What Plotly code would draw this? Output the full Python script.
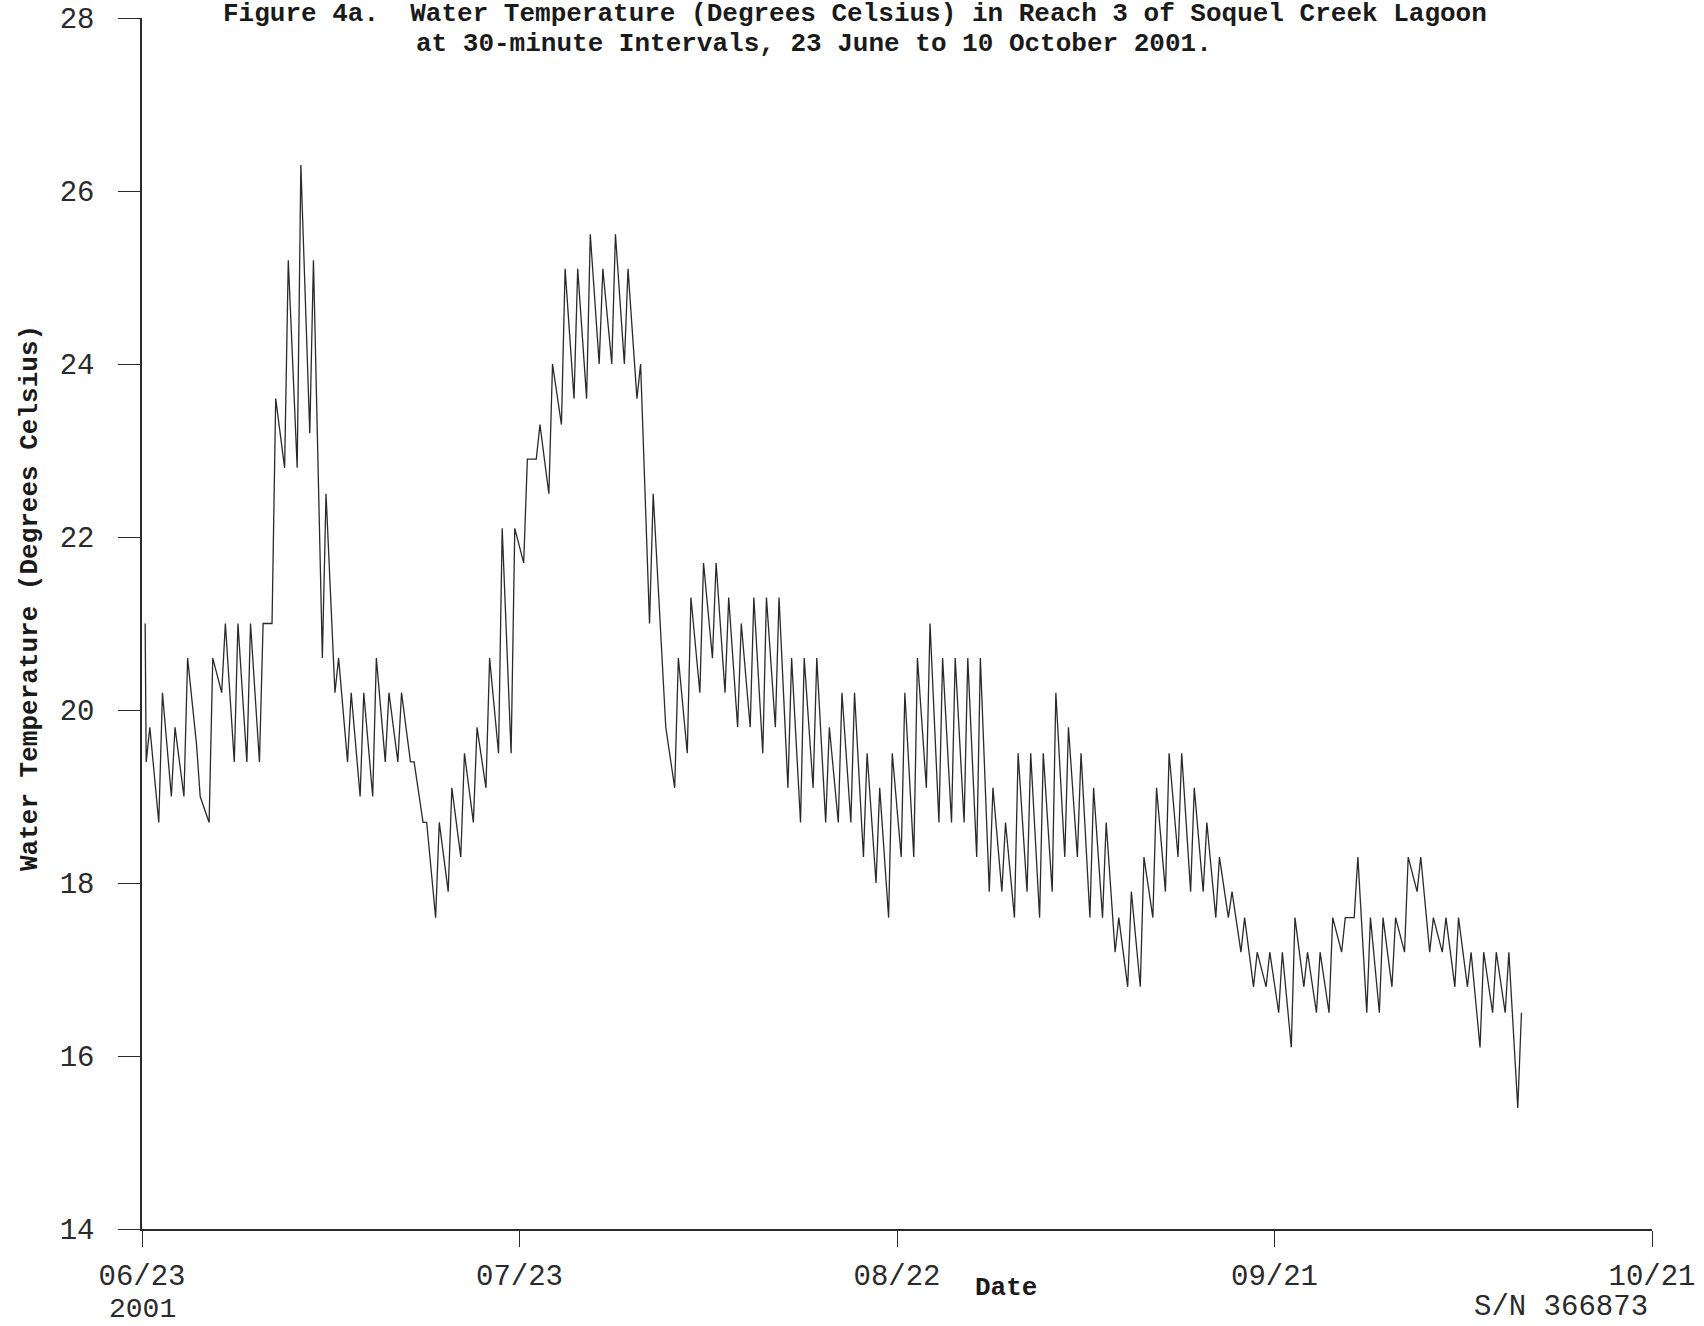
import pandas as pd
import plotly.graph_objects as go

# Logger record, Reach 3, Soquel Creek Lagoon (deg C)
start_date = "2001-06-23"
first_reading = 21.0          # first logged value, morning of 23 June
morning_temp = [
    19.4, 18.7, 19.0, 19.0, 19.6, 18.7, 20.2, 19.4, 19.4, 19.4,
    21.0, 22.8, 22.8, 23.2, 20.6, 20.2, 19.4, 19.0, 19.0, 19.4,
    19.4, 19.4, 18.7, 17.6, 17.9, 18.3, 18.7, 19.1, 19.5, 19.5,
    21.7, 22.9, 22.5, 23.3, 23.6, 23.6, 24.0, 24.0, 24.0, 23.6,
    21.0, 20.6, 19.1, 19.5, 20.2, 20.6, 20.2, 19.8, 19.8, 19.5,
    19.8, 19.1, 18.7, 19.1, 18.7, 18.7, 18.7, 18.3, 18.0, 17.6,
    18.3, 18.3, 19.1, 18.7, 18.7, 18.7, 18.3, 17.9, 17.9, 17.6,
    17.9, 17.6, 17.9, 18.3, 18.3, 17.6, 17.6, 17.2, 16.8, 16.8,
    17.6, 17.9, 18.3, 17.9, 17.9, 17.6, 17.6, 17.2, 16.8, 16.8,
    16.5, 16.1, 16.8, 16.5, 16.5, 17.2, 17.6, 16.5, 16.5, 16.8,
    17.2, 17.9, 17.2, 17.2, 16.8, 16.8, 16.1, 16.5, 16.5, 15.4,
]
afternoon_temp = [
    19.8, 20.2, 19.8, 20.6, 19.0, 20.6, 21.0, 21.0, 21.0, 21.0,
    23.6, 25.2, 26.3, 25.2, 22.5, 20.6, 20.2, 20.2, 20.6, 20.2,
    20.2, 19.4, 18.7, 18.7, 19.1, 19.5, 19.8, 20.6, 22.1, 22.1,
    22.9, 23.3, 24.0, 25.1, 25.1, 25.5, 25.1, 25.5, 25.1, 24.0,
    22.5, 19.8, 20.6, 21.3, 21.7, 21.7, 21.3, 21.0, 21.3, 21.3,
    21.3, 20.6, 20.6, 20.6, 19.8, 20.2, 20.2, 19.5, 19.1, 19.5,
    20.2, 20.6, 21.0, 20.6, 20.6, 20.6, 20.6, 19.1, 18.7, 19.5,
    19.5, 19.5, 20.2, 19.8, 19.5, 19.1, 18.7, 17.6, 17.9, 18.3,
    19.1, 19.5, 19.5, 19.1, 18.7, 18.3, 17.9, 17.6, 17.2, 17.2,
    17.2, 17.6, 17.2, 17.2, 17.6, 17.6, 18.3, 17.6, 17.6, 17.6,
    18.3, 18.3, 17.6, 17.6, 17.6, 17.2, 17.2, 17.2, 17.2, 16.5,
]

tick_dates = ["2001-06-23", "2001-07-23", "2001-08-22", "2001-09-21", "2001-10-21"]
tick_text = ["06/23", "07/23", "08/22", "09/21", "10/21"]
year_label = "2001"
y_ticks = [14, 16, 18, 20, 22, 24, 26, 28]

# Interleave the morning low and afternoon high of each day
base = pd.Timestamp(start_date)
times = [base + pd.Timedelta(hours=6)]
temps = [first_reading]
for day, (lo, hi) in enumerate(zip(morning_temp, afternoon_temp)):
    times.append(base + pd.Timedelta(days=day, hours=8))
    temps.append(lo)
    times.append(base + pd.Timedelta(days=day, hours=15))
    temps.append(hi)

mono = "Liberation Mono, Courier New, monospace"
ink = "#2a2a2a"

fig = go.Figure()
fig.add_trace(go.Scatter(
    x=times, y=temps, mode="lines",
    line=dict(color=ink, width=1.3, shape="linear"),
    hoverinfo="skip", showlegend=False,
))

fig.update_layout(
    width=1704, height=1326,
    margin=dict(l=142, r=52, t=18, b=97),
    paper_bgcolor="white", plot_bgcolor="white",
    font=dict(family=mono, color=ink),
    showlegend=False,
)

fig.update_xaxes(
    type="date",
    range=[tick_dates[0], tick_dates[-1]],
    tickmode="array", tickvals=tick_dates, ticktext=tick_text,
    ticks="outside", ticklen=16, tickwidth=1.3, tickcolor=ink,
    tickfont=dict(family=mono, size=29, color=ink),
    ticklabelstandoff=3,
    showline=True, linecolor=ink, linewidth=1.5,
    showgrid=False, zeroline=False, automargin=False,
)
fig.update_yaxes(
    range=[14, 28],
    tickmode="array", tickvals=y_ticks,
    ticks="outside", ticklen=22, tickwidth=1.3, tickcolor=ink,
    tickfont=dict(family=mono, size=29, color=ink),
    ticklabelstandoff=18,
    showline=True, linecolor=ink, linewidth=1.5,
    showgrid=False, zeroline=False, automargin=False,
)

bold = dict(family=mono, size=26, color="#1a1a1a")
plot_w, plot_h = 1510, 1211   # plot area in px: x 142..1652, y 18..1229

fig.add_annotation(
    text="<b>Figure 4a.  Water Temperature (Degrees Celsius) in Reach 3 of Soquel Creek Lagoon</b>",
    xref="paper", yref="paper", x=(221 - 142) / plot_w, y=1 + (18 - 14) / plot_h,
    xanchor="left", yanchor="middle", showarrow=False, font=bold,
)
fig.add_annotation(
    text="<b>at 30-minute Intervals, 23 June to 10 October 2001.</b>",
    xref="paper", yref="paper", x=(414 - 142) / plot_w, y=1 - (44 - 18) / plot_h,
    xanchor="left", yanchor="middle", showarrow=False, font=bold,
)
fig.add_annotation(
    text="<b>Water Temperature (Degrees Celsius)</b>",
    xref="paper", yref="paper", x=(30 - 142) / plot_w, y=1 - (598 - 18) / plot_h,
    xanchor="center", yanchor="middle", textangle=-90, showarrow=False, font=bold,
)
fig.add_annotation(
    text="<b>Date</b>",
    xref="paper", yref="paper", x=(1006 - 142) / plot_w, y=-(1288 - 1229) / plot_h,
    xanchor="center", yanchor="middle", showarrow=False, font=bold,
)
fig.add_annotation(
    text=year_label,
    xref="x", yref="paper", x=tick_dates[0], y=-(1309 - 1229) / plot_h,
    xanchor="center", yanchor="middle", showarrow=False,
    font=dict(family=mono, size=28, color=ink),
)
fig.add_annotation(
    text="S/N 366873",
    xref="paper", yref="paper", x=(1650 - 142) / plot_w, y=-(1307 - 1229) / plot_h,
    xanchor="right", yanchor="middle", showarrow=False,
    font=dict(family=mono, size=29, color=ink),
)

fig.write_html("out.html")
